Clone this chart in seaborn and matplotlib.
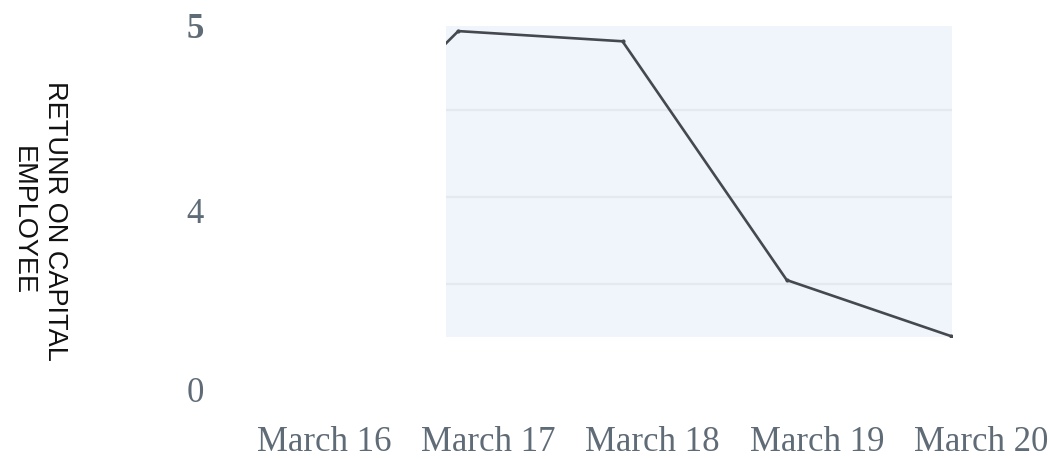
import numpy as np
import pandas as pd
import matplotlib
matplotlib.use("Agg")
import matplotlib.pyplot as plt
import seaborn as sns
from matplotlib.patches import Rectangle
from matplotlib.transforms import ScaledTranslation

# ---- data ----
DATES = ["March 16", "March 17", "March 18", "March 19", "March 20"]
VALUES = [2.68, 4.93, 4.79, 1.51, 0.74]
Y_TICK_VALUES = [0, 2.46, 5]
Y_TICK_LABELS = ["0", "4", "5"]
GRID_VALUES = [3.85, 2.65, 1.46]
BOX_X = (0.925, 4.006)
BOX_Y = (0.73, 5.0)
Y_TITLE = "RETUNR ON CAPITAL\nEMPLOYEE"

sns.set_style("white")

W, H, DPI = 1050, 459, 100
fig = plt.figure(figsize=(W / DPI, H / DPI), dpi=DPI)
px_per_x = 164.25
x_max = 4.01
left_px, bottom_px, top_px = 294, 390, 26
ax = fig.add_axes([left_px / W, 1 - bottom_px / H, x_max * px_per_x / W, (bottom_px - top_px) / H])

df = pd.DataFrame({"idx": np.arange(len(DATES)), "date": DATES, "value": VALUES})

rect = Rectangle((BOX_X[0], BOX_Y[0]), BOX_X[1] - BOX_X[0], BOX_Y[1] - BOX_Y[0],
                 facecolor="#f0f4fb", edgecolor="none", zorder=0, clip_on=False)
ax.add_patch(rect)
gl = ax.hlines(GRID_VALUES, BOX_X[0], BOX_X[1], colors="#e4e9f0", linewidth=1.6, zorder=1)

sns.lineplot(data=df, x="idx", y="value", ax=ax, color="#45494f", linewidth=1.9,
             marker="o", markersize=3, markeredgewidth=0, zorder=3)
for ln in ax.lines:
    ln.set_clip_path(rect)

ax.set_xlim(0, x_max)
ax.set_ylim(0, 5.0)
for s in ax.spines.values():
    s.set_visible(False)
ax.set_facecolor("none")
ax.grid(False)
ax.set_xlabel("")
ax.set_ylabel("")

ax.set_xticks(df["idx"])
ax.set_xticklabels(DATES)
ax.set_yticks(Y_TICK_VALUES)
ax.set_yticklabels(Y_TICK_LABELS)
ax.tick_params(axis="both", length=0, colors="#5f6b76")
ax.tick_params(axis="x", pad=26)
ax.tick_params(axis="y", pad=65)
for lab in ax.get_xticklabels() + ax.get_yticklabels():
    lab.set_fontfamily("Liberation Serif")
    lab.set_fontsize(25)
    lab.set_color("#5f6b76")
for lab in ax.get_yticklabels():
    if lab.get_text() == "5":
        lab.set_fontweight("bold")
off = ScaledTranslation(30 / DPI, 0, fig.dpi_scale_trans)
for lab in ax.get_xticklabels():
    lab.set_transform(lab.get_transform() + off)

fig.text(39 / W, 1 - 221 / H, Y_TITLE, rotation=270, ha="center", va="center",
         family="Liberation Sans", fontsize=19.5, linespacing=1.3,
         multialignment="center", color="#111111")

fig.savefig("out.png", dpi=DPI)
